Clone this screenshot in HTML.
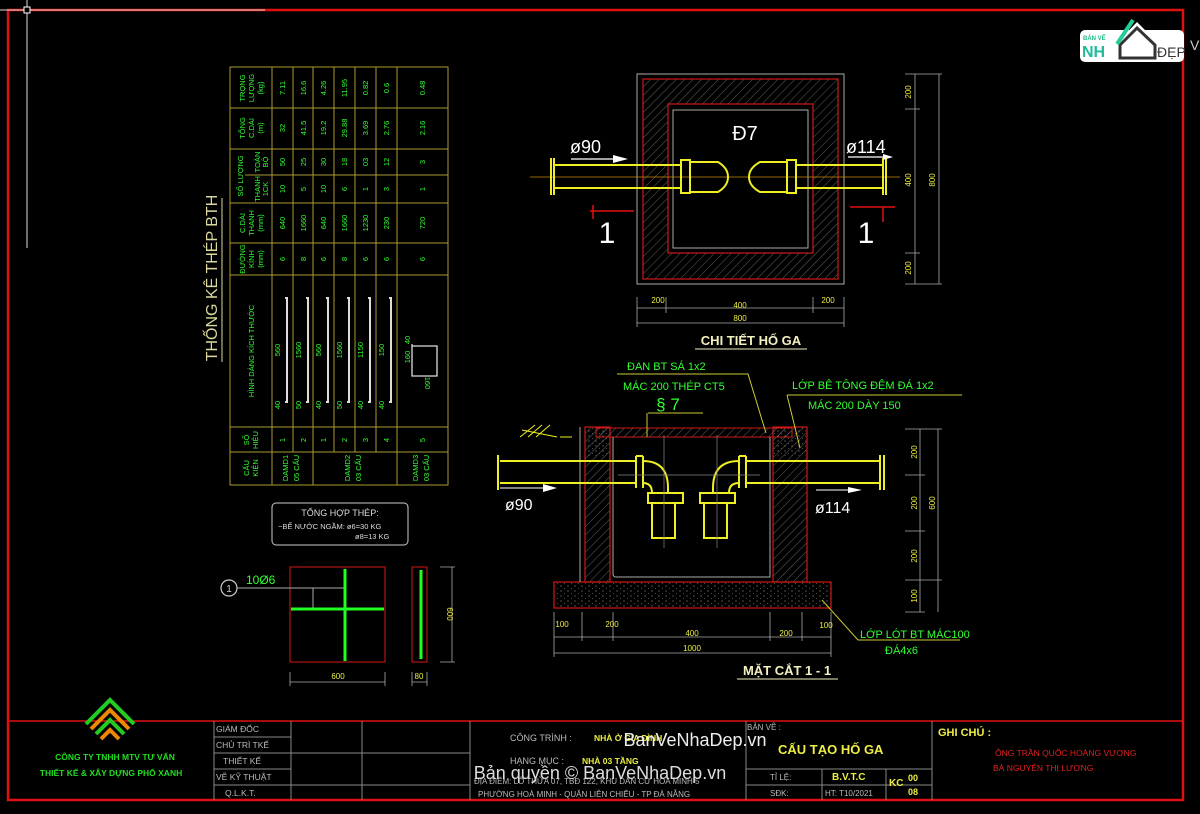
<!DOCTYPE html>
<html><head><meta charset="utf-8"><style>
html,body{margin:0;padding:0;background:#000;}
svg{display:block;font-family:"Liberation Sans","DejaVu Sans",sans-serif;}
.g{fill:#3f3;font-size:8px;}
.y{fill:#ee4;}
.w{fill:#fff;}
.t text{fill:#3f3;font-size:7.5px;text-anchor:middle;}
</style></head><body>
<svg width="1200" height="814" viewBox="0 0 1200 814" xmlns="http://www.w3.org/2000/svg">
<defs>
<pattern id="h" width="6" height="6" patternUnits="userSpaceOnUse" patternTransform="rotate(45)"><line x1="0" y1="0" x2="0" y2="6" stroke="#777" stroke-width="0.8"/></pattern>
<pattern id="d" width="7" height="5" patternUnits="userSpaceOnUse"><circle cx="1" cy="1" r="0.6" fill="#888"/><circle cx="4.5" cy="3.5" r="0.5" fill="#666"/></pattern>
</defs>
<rect width="1200" height="814" fill="#000"/>
<!-- border -->
<rect x="8" y="10" width="1175" height="790" fill="none" stroke="#e01010" stroke-width="2.5"/>
<line x1="8" y1="721" x2="1183" y2="721" stroke="#e01010" stroke-width="1.5"/>
<line x1="0" y1="10" x2="265" y2="10" stroke="#ddd" stroke-width="1"/>
<line x1="27" y1="0" x2="27" y2="248" stroke="#ddd" stroke-width="1"/>
<rect x="24" y="7" width="6" height="6" fill="#000" stroke="#fff" stroke-width="1"/>

<!-- Table title -->
<text transform="translate(217,278) rotate(-90)" text-anchor="middle" fill="#ddd8a0" font-size="16">THỐNG KÊ THÉP BTH</text>
<line x1="222" y1="198" x2="222" y2="362" stroke="#ddd8a0" stroke-width="1"/>

<!-- Table grid -->
<g stroke="#aa9a30" stroke-width="1" fill="none">
<rect x="230" y="67" width="218" height="418"/>
<line x1="272" y1="67" x2="272" y2="485"/>
<line x1="293" y1="67" x2="293" y2="452"/>
<line x1="313" y1="67" x2="313" y2="485"/>
<line x1="334" y1="67" x2="334" y2="452"/>
<line x1="355" y1="67" x2="355" y2="452"/>
<line x1="376" y1="67" x2="376" y2="452"/>
<line x1="397" y1="67" x2="397" y2="485"/>
<line x1="230" y1="108" x2="448" y2="108"/>
<line x1="230" y1="149" x2="448" y2="149"/>
<line x1="230" y1="203" x2="448" y2="203"/>
<line x1="230" y1="243" x2="448" y2="243"/>
<line x1="230" y1="275" x2="448" y2="275"/>
<line x1="230" y1="427" x2="448" y2="427"/>
<line x1="230" y1="452" x2="448" y2="452"/>
<line x1="245" y1="175" x2="448" y2="175"/>
</g>
<g class="t">
<text transform="translate(251,88) rotate(-90)"><tspan x="0" dy="-6">TRỌNG</tspan><tspan x="0" dy="9">LƯỢNG</tspan><tspan x="0" dy="9">(kg)</tspan></text>
<text transform="translate(251,128) rotate(-90)"><tspan x="0" dy="-6">TỔNG</tspan><tspan x="0" dy="9">C.DÀI</tspan><tspan x="0" dy="9">(m)</tspan></text>
<text transform="translate(240,176) rotate(-90)" dy="3">SỐ LƯỢNG</text>
<text transform="translate(262,162) rotate(-90)"><tspan x="0" dy="-2">TOÀN</tspan><tspan x="0" dy="8">BỘ</tspan></text>
<text transform="translate(262,189) rotate(-90)" font-size="6.5"><tspan x="0" dy="-2">THANH</tspan><tspan x="0" dy="8">1CK</tspan></text>
<text transform="translate(251,223) rotate(-90)"><tspan x="0" dy="-6">C.DÀI</tspan><tspan x="0" dy="9">THANH</tspan><tspan x="0" dy="9">(mm)</tspan></text>
<text transform="translate(251,259) rotate(-90)"><tspan x="0" dy="-6">ĐƯỜNG</tspan><tspan x="0" dy="9">KÍNH</tspan><tspan x="0" dy="9">(mm)</tspan></text>
<text transform="translate(254,351) rotate(-90)">HÌNH DÁNG KÍCH THƯỚC</text>
<text transform="translate(251,440) rotate(-90)"><tspan x="0" dy="-2">SỐ</tspan><tspan x="0" dy="9">HIỆU</tspan></text>
<text transform="translate(251,468) rotate(-90)"><tspan x="0" dy="-2">CẤU</tspan><tspan x="0" dy="9">KIỆN</tspan></text>
</g>
<g class="t" id="vals">
<!-- columns -->
<g transform="translate(285,88) rotate(-90)"><text>7.11</text></g>
<g transform="translate(306,88) rotate(-90)"><text>16.6</text></g>
<g transform="translate(326,88) rotate(-90)"><text>4.26</text></g>
<g transform="translate(347,88) rotate(-90)"><text>11.95</text></g>
<g transform="translate(368,88) rotate(-90)"><text>0.82</text></g>
<g transform="translate(389,88) rotate(-90)"><text>0.6</text></g>
<g transform="translate(425,88) rotate(-90)"><text>0.48</text></g>
<g transform="translate(285,128) rotate(-90)"><text>32</text></g>
<g transform="translate(306,128) rotate(-90)"><text>41.5</text></g>
<g transform="translate(326,128) rotate(-90)"><text>19.2</text></g>
<g transform="translate(347,128) rotate(-90)"><text>29.88</text></g>
<g transform="translate(368,128) rotate(-90)"><text>3.69</text></g>
<g transform="translate(389,128) rotate(-90)"><text>2.76</text></g>
<g transform="translate(425,128) rotate(-90)"><text>2.16</text></g>
<g transform="translate(285,162) rotate(-90)"><text>50</text></g>
<g transform="translate(306,162) rotate(-90)"><text>25</text></g>
<g transform="translate(326,162) rotate(-90)"><text>30</text></g>
<g transform="translate(347,162) rotate(-90)"><text>18</text></g>
<g transform="translate(368,162) rotate(-90)"><text>03</text></g>
<g transform="translate(389,162) rotate(-90)"><text>12</text></g>
<g transform="translate(425,162) rotate(-90)"><text>3</text></g>
<g transform="translate(285,189) rotate(-90)"><text>10</text></g>
<g transform="translate(306,189) rotate(-90)"><text>5</text></g>
<g transform="translate(326,189) rotate(-90)"><text>10</text></g>
<g transform="translate(347,189) rotate(-90)"><text>6</text></g>
<g transform="translate(368,189) rotate(-90)"><text>1</text></g>
<g transform="translate(389,189) rotate(-90)"><text>3</text></g>
<g transform="translate(425,189) rotate(-90)"><text>1</text></g>
<g transform="translate(285,223) rotate(-90)"><text>640</text></g>
<g transform="translate(306,223) rotate(-90)"><text>1660</text></g>
<g transform="translate(326,223) rotate(-90)"><text>640</text></g>
<g transform="translate(347,223) rotate(-90)"><text>1660</text></g>
<g transform="translate(368,223) rotate(-90)"><text>1230</text></g>
<g transform="translate(389,223) rotate(-90)"><text>230</text></g>
<g transform="translate(425,223) rotate(-90)"><text>720</text></g>
<g transform="translate(285,259) rotate(-90)"><text>6</text></g>
<g transform="translate(306,259) rotate(-90)"><text>8</text></g>
<g transform="translate(326,259) rotate(-90)"><text>6</text></g>
<g transform="translate(347,259) rotate(-90)"><text>8</text></g>
<g transform="translate(368,259) rotate(-90)"><text>6</text></g>
<g transform="translate(389,259) rotate(-90)"><text>6</text></g>
<g transform="translate(425,259) rotate(-90)"><text>6</text></g>
<g transform="translate(285,440) rotate(-90)"><text>1</text></g>
<g transform="translate(306,440) rotate(-90)"><text>2</text></g>
<g transform="translate(326,440) rotate(-90)"><text>1</text></g>
<g transform="translate(347,440) rotate(-90)"><text>2</text></g>
<g transform="translate(368,440) rotate(-90)"><text>3</text></g>
<g transform="translate(389,440) rotate(-90)"><text>4</text></g>
<g transform="translate(425,440) rotate(-90)"><text>5</text></g>
<g transform="translate(292,468) rotate(-90)"><text font-size="6.5"><tspan x="0" dy="-4">DAMD1</tspan><tspan x="0" dy="11">05 CẤU</tspan></text></g>
<g transform="translate(354,468) rotate(-90)"><text font-size="6.5"><tspan x="0" dy="-4">DAMD2</tspan><tspan x="0" dy="11">03 CẤU</tspan></text></g>
<g transform="translate(422,468) rotate(-90)"><text font-size="6.5"><tspan x="0" dy="-4">DAMD3</tspan><tspan x="0" dy="11">03 CẤU</tspan></text></g>
<!-- shape labels -->
<g transform="translate(280,350) rotate(-90)"><text>560</text></g>
<g transform="translate(301,350) rotate(-90)"><text>1560</text></g>
<g transform="translate(321,350) rotate(-90)"><text>560</text></g>
<g transform="translate(342,350) rotate(-90)"><text>1560</text></g>
<g transform="translate(363,350) rotate(-90)"><text>1150</text></g>
<g transform="translate(384,350) rotate(-90)"><text>150</text></g>
<g transform="translate(280,405) rotate(-90)"><text>40</text></g>
<g transform="translate(301,405) rotate(-90)"><text>50</text></g>
<g transform="translate(321,405) rotate(-90)"><text>40</text></g>
<g transform="translate(342,405) rotate(-90)"><text>50</text></g>
<g transform="translate(363,405) rotate(-90)"><text>40</text></g>
<g transform="translate(384,405) rotate(-90)"><text>40</text></g>
<g transform="translate(410,357) rotate(-90)"><text>160</text></g>
<g transform="translate(410,340) rotate(-90)"><text>40</text></g>
<g transform="translate(425,383) rotate(90)"><text>160</text></g>
</g>
<g stroke="#ddd" stroke-width="2" fill="none">
<path d="M285 298 h2 v104 h-2"/>
<path d="M306 298 h2 v104 h-2"/>
<path d="M326 298 h2 v104 h-2"/>
<path d="M347 298 h2 v104 h-2"/>
<path d="M368 298 h2 v104 h-2"/>
<path d="M389 298 h2 v104 h-2"/>
</g>
<path d="M412 346 h25 v30 h-25 v-32" stroke="#ddd" stroke-width="1.3" fill="none"/>

<!-- Tong hop thep -->
<rect x="272" y="503" width="136" height="42" rx="4" fill="none" stroke="#ccc" stroke-width="1"/>
<text x="340" y="516" text-anchor="middle" fill="#ddd" font-size="9">TỔNG HỢP THÉP:</text>
<text x="278" y="529" fill="#ddd" font-size="7.5">−BỂ NƯỚC NGẦM: ø6=30 KG</text>
<text x="355" y="539" fill="#ddd" font-size="7.5">ø8=13 KG</text>

<!-- lid detail -->
<rect x="290" y="567" width="95" height="95" fill="none" stroke="#d01818" stroke-width="1"/>
<line x1="345" y1="569" x2="345" y2="661" stroke="#2f2" stroke-width="3"/>
<line x1="291" y1="609" x2="384" y2="609" stroke="#2f2" stroke-width="3"/>
<circle cx="229" cy="588" r="8" fill="none" stroke="#ccc" stroke-width="1.2"/>
<text x="229" y="592" text-anchor="middle" fill="#ccc" font-size="10">1</text>
<path d="M237 588 H344 M313 588 V608" stroke="#aaa" stroke-width="1" fill="none"/>
<text x="246" y="584" fill="#3f3" font-size="12">10Ø6</text>
<rect x="412" y="567" width="15" height="95" fill="none" stroke="#d01818" stroke-width="1"/>
<line x1="421" y1="570" x2="421" y2="659" stroke="#2f2" stroke-width="3"/>
<path d="M440 567 H455 M440 662 H455 M452 567 V662 M290 672 V686 M385 672 V686 M290 682 H385 M412 672 V686 M427 672 V686 M412 682 H427" stroke="#aaa" stroke-width="0.8" fill="none"/>
<text transform="translate(447,614) rotate(90)" text-anchor="middle" fill="#ee4" font-size="8">600</text>
<text x="338" y="679" text-anchor="middle" fill="#ee4" font-size="8">600</text>
<text x="419" y="679" text-anchor="middle" fill="#ee4" font-size="8">80</text>

<!-- CHI TIET HO GA plan -->
<rect x="643" y="79" width="195" height="200" fill="url(#h)"/>
<rect x="668" y="104" width="145" height="149" fill="#000"/>
<rect x="637" y="74" width="207" height="210" fill="none" stroke="#aaa" stroke-width="1"/>
<rect x="643" y="79" width="195" height="200" fill="none" stroke="#d01818" stroke-width="1.2"/>
<rect x="668" y="104" width="145" height="149" fill="none" stroke="#d01818" stroke-width="1.2"/>
<rect x="673" y="110" width="135" height="138" fill="none" stroke="#aaa" stroke-width="1"/>
<line x1="530" y1="177" x2="900" y2="177" stroke="#c80" stroke-width="0.8"/>
<g stroke="#ee2" stroke-width="2" fill="none">
<path d="M555 165 H681 M555 188 H681"/>
<path d="M796 165 H883 M796 188 H883"/>
<rect x="681" y="160" width="9" height="33"/>
<path d="M690 162 H718 Q728 168 728 177 Q728 186 718 192 H690"/>
<rect x="787" y="160" width="9" height="33"/>
<path d="M787 162 H760 Q749 168 749 177 Q749 186 760 192 H787"/>
<path d="M551 158 V195 M554 158 V195 M883 158 V195 M886 158 V195"/>
</g>
<text x="570" y="153" fill="#fff" font-size="18">ø90</text>
<text x="846" y="153" fill="#fff" font-size="18">ø114</text>
<path d="M571 159 H615" stroke="#fff" stroke-width="1.2"/><path d="M613 155 L628 159 L613 163Z" fill="#fff"/>
<path d="M848 157 H885" stroke="#fff" stroke-width="1.2"/><path d="M883 154 L893 157 L883 160Z" fill="#fff"/>
<text x="745" y="140" text-anchor="middle" fill="#fff" font-size="20">Đ7</text>
<path d="M590 211 H634 M593 205 V219 M850 207 H895 M883 207 V222" stroke="#e01010" stroke-width="1.5"/>
<text x="607" y="243" text-anchor="middle" fill="#fff" font-size="30">1</text>
<text x="866" y="243" text-anchor="middle" fill="#fff" font-size="30">1</text>
<g stroke="#aaa" stroke-width="0.8" fill="none">
<path d="M915 74 V284 M939 74 V284 M905 74 H942 M905 109 H920 M905 253 H920 M905 284 H942"/>
<path d="M637 297 V327 M666 297 V313 M813 297 V313 M844 297 V327 M637 308 H844 M637 323 H844"/>
</g>
<g fill="#ee4" font-size="8" text-anchor="middle">
<text transform="translate(911,92) rotate(-90)">200</text>
<text transform="translate(911,180) rotate(-90)">400</text>
<text transform="translate(935,180) rotate(-90)">800</text>
<text transform="translate(911,268) rotate(-90)">200</text>
<text x="658" y="303">200</text><text x="740" y="308">400</text><text x="828" y="303">200</text><text x="740" y="321">800</text>
</g>
<text x="751" y="345" text-anchor="middle" fill="#f4f0c0" font-size="13" font-weight="bold">CHI TIẾT HỐ GA</text>
<line x1="695" y1="349" x2="807" y2="349" stroke="#f4f0c0" stroke-width="1"/>

<!-- MAT CAT 1-1 -->
<rect x="554" y="582" width="277" height="26" fill="url(#d)" stroke="#d01818" stroke-width="1.2"/>
<rect x="585" y="427" width="25" height="155" fill="url(#h)" stroke="#d01818" stroke-width="1.2"/>
<rect x="773" y="427" width="34" height="155" fill="url(#h)" stroke="#d01818" stroke-width="1.2"/>
<rect x="586" y="428" width="23" height="28" fill="url(#d)"/>
<rect x="774" y="428" width="32" height="28" fill="url(#d)"/>
<rect x="596" y="428" width="196" height="9" fill="url(#h)" stroke="#d01818" stroke-width="1"/>
<path d="M580 427 V582 M613 437 V574 Q613 577 616 577 H770 V437" stroke="#aaa" stroke-width="1" fill="none"/>
<g stroke="#ee2" stroke-width="2" fill="none">
<path d="M500 461 H636 M500 483 H636"/>
<path d="M746 461 H880 M746 483 H880"/>
<path d="M636 456 V488 M643 456 V488 M636 456 H643 M643 461 Q668 461 668 488 V493 M643 483 Q652 483 652 493"/>
<path d="M648 493 H683 V503 H648Z M652 503 V538 H675 V503"/>
<path d="M739 456 V488 M746 456 V488 M739 456 H746 M739 461 Q713 461 713 488 V493 M739 483 Q729 483 729 493"/>
<path d="M700 493 H735 V503 H700Z M704 503 V538 H727 V503"/>
<path d="M498 455 V490 M880 455 V490 M884 455 V490"/>
</g>
<path d="M664 435 V548 M717 435 V548 M618 475 H760" stroke="#888" stroke-width="0.7"/>
<path d="M520 437 L535 425 M528 437 L542 425 M536 437 L550 425 M522 430 L557 437 M560 437 H572" stroke="#ee2" stroke-width="1"/>
<text x="505" y="510" fill="#fff" font-size="16">ø90</text>
<text x="815" y="513" fill="#fff" font-size="16">ø114</text>
<path d="M500 488 H545" stroke="#fff" stroke-width="1"/><path d="M543 484 L557 488 L543 492Z" fill="#fff"/>
<path d="M816 490 H850" stroke="#fff" stroke-width="1"/><path d="M848 487 L862 490 L848 493Z" fill="#fff"/>
<path d="M617 374 H748 L766 433 M648 413 H703 M647 413 V437 M787 395 H962 M787 395 L800 448" stroke="#cc3" stroke-width="1" fill="none"/>
<g fill="#3f3" font-size="11">
<text x="627" y="370">ĐAN BT SÁ 1x2</text>
<text x="623" y="390">MÁC 200 THÉP CT5</text>
<text x="668" y="410" font-size="17" text-anchor="middle">§ 7</text>
<text x="792" y="389">LỚP BÊ TÔNG ĐỆM ĐÁ 1x2</text>
<text x="808" y="409">MÁC 200 DÀY 150</text>
<text x="860" y="638">LỚP LÓT BT MÁC100</text>
<text x="885" y="654">ĐÁ4x6</text>
</g>
<path d="M822 600 L858 640 H960" stroke="#cc3" stroke-width="1" fill="none"/>
<g stroke="#aaa" stroke-width="0.8" fill="none">
<path d="M920 429 V612 M938 429 V612 M905 429 H942 M905 475 H925 M905 531 H925 M905 580 H942 M905 612 H925"/>
<path d="M554 612 V657 M582 612 V641 M613 612 V641 M770 612 V641 M802 612 V641 M831 612 V657 M554 637 H831 M554 653 H831"/>
</g>
<g fill="#ee4" font-size="8" text-anchor="middle">
<text transform="translate(917,452) rotate(-90)">200</text>
<text transform="translate(917,503) rotate(-90)">200</text>
<text transform="translate(917,556) rotate(-90)">200</text>
<text transform="translate(917,596) rotate(-90)">100</text>
<text transform="translate(935,503) rotate(-90)">600</text>
<text x="562" y="627">100</text><text x="612" y="627">200</text><text x="692" y="636">400</text><text x="786" y="636">200</text><text x="826" y="628">100</text><text x="692" y="651">1000</text>
</g>
<text x="787" y="675" text-anchor="middle" fill="#f4f0c0" font-size="13" font-weight="bold">MẶT CẮT 1 - 1</text>
<line x1="737" y1="679" x2="838" y2="679" stroke="#f4f0c0" stroke-width="1"/>

<!-- Title block -->
<g stroke="#888" stroke-width="1" fill="none">
<path d="M214 721 V800 M291 721 V800 M362 721 V800 M470 721 V800 M746 721 V800 M932 721 V800"/>
<path d="M214 737 H291 M214 753 H470 M214 769 H291 M214 785 H470"/>
<path d="M746 769 H932 M746 785 H932 M822 769 V800 M886 769 V800"/>
</g>
<g fill="#bbb" font-size="8.5">
<text x="216" y="732">GIÁM ĐỐC</text><text x="216" y="748">CHỦ TRÌ TKẾ</text><text x="223" y="764">THIẾT KẾ</text><text x="216" y="780">VẼ KỸ THUẬT</text><text x="225" y="796">Q.L.K.T.</text>
<text x="510" y="741" font-size="9">CÔNG TRÌNH :</text><text x="510" y="764" font-size="9">HẠNG MỤC :</text>
<text x="474" y="784" font-size="8">ĐỊA ĐIỂM: LÔ THỬA 07, TBĐ 122, KHU DÂN CƯ HÒA MINH 5</text>
<text x="478" y="797" font-size="8">PHƯỜNG HOÀ MINH - QUẬN LIÊN CHIỂU - TP ĐÀ NẴNG</text>
<text x="747" y="730" font-size="8">BẢN VẼ :</text>
<text x="770" y="780" font-size="8">TỈ LỆ:</text><text x="770" y="796" font-size="8">SĐK:</text>
<text x="825" y="796" font-size="8">HT: T10/2021</text>
</g>
<g fill="#ee4" font-weight="bold">
<text x="594" y="741" font-size="8.5">NHÀ Ở GIA ĐÌNH</text>
<text x="582" y="764" font-size="8.5">NHÀ 03 TẦNG</text>
<text x="778" y="754" font-size="13">CẤU TẠO HỐ GA</text>
<text x="832" y="780" font-size="10">B.V.T.C</text>
<text x="889" y="786" font-size="10">KC</text>
<text x="908" y="781" font-size="9">00</text><text x="908" y="795" font-size="9">08</text>
<text x="938" y="736" font-size="11">GHI CHÚ :</text>
</g>
<g fill="#e02020" font-size="8.5"><text x="995" y="756">ÔNG TRẦN QUỐC HOÀNG VƯƠNG</text><text x="993" y="771">BÀ NGUYỄN THỊ LƯƠNG</text></g>
<!-- logo -->
<g stroke-width="4" fill="none">
<path d="M86 724 L110 700 L134 724" stroke="#2c2"/>
<path d="M91 729 L110 710 L129 729" stroke="#e80"/>
<path d="M96 734 L110 720 L124 734" stroke="#2c2"/>
<path d="M101 739 L110 730 L119 739" stroke="#e80"/>
</g>
<text x="115" y="760" text-anchor="middle" fill="#2d2" font-size="8.5" font-weight="bold">CÔNG TY TNHH MTV TƯ VẤN</text>
<text x="111" y="776" text-anchor="middle" fill="#2d2" font-size="8.5" font-weight="bold">THIẾT KẾ &amp; XÂY DỰNG PHỐ XANH</text>
<!-- watermarks -->
<text x="695" y="746" text-anchor="middle" fill="#eee" font-size="18">BanVeNhaDep.vn</text>
<text x="600" y="779" text-anchor="middle" fill="#ddd" font-size="18">Bản quyền © BanVeNhaDep.vn</text>
<!-- top right logo -->
<rect x="1080" y="30" width="104" height="32" rx="5" fill="#fff"/>
<path d="M1115 45 L1137 22 L1160 45 V60 H1115Z" fill="#fff"/>
<path d="M1120 45 L1137 28 L1155 45 V58 H1120Z" fill="none" stroke="#333" stroke-width="3"/>
<path d="M1117 44 L1133 20" stroke="#2c9" stroke-width="4"/>
<text x="1083" y="40" fill="#2b8" font-size="6" font-weight="bold">BẢN VẼ</text>
<text x="1082" y="57" fill="#2b9" font-size="16" font-weight="bold">NH</text>
<text x="1157" y="57" fill="#333" font-size="14">ĐẸP</text>
<text x="1190" y="50" fill="#ccc" font-size="14">V</text>
</svg>
</body></html>
